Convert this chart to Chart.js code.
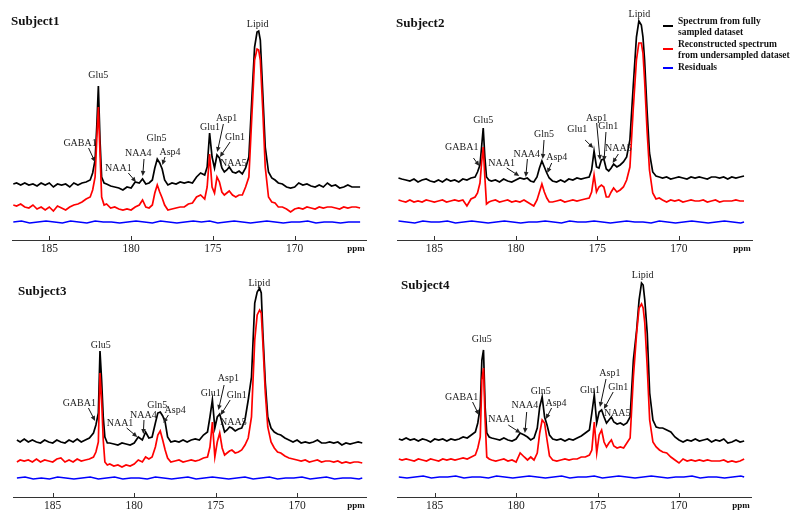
<!DOCTYPE html>
<html>
<head>
<meta charset="utf-8">
<script src="https://cdn.jsdelivr.net/npm/chart.js@4.4.1/dist/chart.umd.min.js"></script>
<style>
  body { margin: 0; background: #fff; }
  #wrap { position: relative; width: 800px; height: 519px; overflow: hidden; background: #fff; }
  canvas { position: absolute; }
</style>
</head>
<body>
<div id="wrap">
  <canvas id="c1" width="400" height="260" style="left:0;top:0"></canvas>
  <canvas id="c2" width="415" height="260" style="left:385px;top:0"></canvas>
  <canvas id="c3" width="400" height="260" style="left:0;top:257px"></canvas>
  <canvas id="c4" width="415" height="260" style="left:385px;top:257px"></canvas>
</div>
<script>
// chemical shift grid (ppm) shared by the full and reconstructed spectra
const ppm = [
  187.2, 187.0, 186.75, 186.5, 186.25, 186.0, 185.75, 185.5, 185.25, 185.0,
  184.75, 184.5, 184.25, 184.0, 183.75, 183.5, 183.25, 183.0, 182.75, 182.5,
  182.35, 182.2, 182.1, 182.0, 181.9, 181.8, 181.65, 181.5, 181.25, 181.0,
  180.75, 180.5, 180.25, 180.0, 179.75, 179.5, 179.3, 179.1, 178.9, 178.7,
  178.55, 178.4, 178.25, 178.1, 177.95, 177.75, 177.5, 177.25, 177.0, 176.75,
  176.5, 176.25, 176.0, 175.75, 175.5, 175.35, 175.2, 175.05, 174.9, 174.75,
  174.6, 174.45, 174.3, 174.15, 174.0, 173.8, 173.6, 173.4, 173.2, 173.0,
  172.8, 172.6, 172.45, 172.3, 172.2, 172.1, 171.95, 171.8, 171.6, 171.4,
  171.2, 171.0, 170.75, 170.5, 170.25, 170.0, 169.75, 169.5, 169.25, 169.0,
  168.75, 168.5, 168.25, 168.0, 167.75, 167.5, 167.25, 167.0, 166.75, 166.5,
  166.25, 166.0
];
// coarser grid for the residuals
const residPpm = [
  187.2, 186.7, 186.2, 185.7, 185.2, 184.7, 184.2, 183.7, 183.2, 182.7, 182.2,
  181.7, 181.2, 180.7, 180.2, 179.7, 179.2, 178.7, 178.2, 177.7, 177.2, 176.7,
  176.2, 175.7, 175.2, 174.7, 174.2, 173.7, 173.2, 172.7, 172.2, 171.7, 171.2,
  170.7, 170.2, 169.7, 169.2, 168.7, 168.2, 167.7, 167.2, 166.7, 166.2, 166.0
];
const tickVals = [185, 180, 175, 170];
const subjects = ['Subject1', 'Subject2', 'Subject3', 'Subject4'];
const legendLabels = [
  ['Spectrum from fully', 'sampled dataset'],
  ['Reconstructed spectrum', 'from undersampled dataset'],
  ['Residuals']
];

// Subject1
const full1 = [
  56, 57, 55, 57, 55, 56, 54, 57, 55, 57,
  53, 56, 55, 56, 53, 57, 55, 57, 58, 60,
  67, 80, 113, 154, 100, 63, 57, 56, 54, 53,
  52, 50, 53, 52, 58, 57, 61, 56, 57, 60,
  72, 81, 77, 71, 60, 55, 57, 56, 58, 57,
  58, 57, 63, 67, 65, 73, 107, 83, 72, 85,
  82, 72, 68, 70, 73, 68, 67, 69, 66, 72,
  83, 147, 193, 208, 209, 200, 147, 93, 68, 62,
  60, 57, 56, 53, 52, 53, 57, 55, 56, 54,
  53, 55, 53, 57, 54, 55, 52, 53, 55, 53,
  53, 53
];
const recon1 = [
  35, 34, 36, 33, 32, 35, 31, 33, 30, 33,
  29, 34, 32, 30, 33, 35, 36, 38, 41, 43,
  50, 63, 100, 133, 87, 43, 35, 36, 32, 33,
  31, 30, 31, 30, 33, 35, 40, 33, 32, 35,
  47, 55, 48, 42, 35, 30, 31, 32, 33, 33,
  36, 37, 43, 45, 41, 53, 86, 53, 47, 63,
  58, 48, 45, 47, 49, 45, 43, 45, 45, 53,
  63, 130, 180, 191, 190, 180, 130, 73, 43, 38,
  37, 33, 33, 31, 28, 31, 32, 31, 33, 32,
  31, 33, 32, 33, 33, 32, 31, 33, 32, 33,
  33, 32
];
const resid1 = [
  18, 19, 17, 18, 19, 18, 17, 19, 18, 17, 19,
  18, 18, 17, 18, 19, 18, 17, 19, 18, 17, 18,
  19, 18, 19, 17, 18, 19, 18, 17, 18, 19, 18,
  17, 18, 18, 19, 17, 18, 18, 17, 18, 18, 18
];

// Subject2
const full2 = [
  62, 61, 60, 59, 61, 58, 60, 61, 59, 58,
  60, 58, 61, 59, 60, 58, 61, 60, 62, 63,
  68, 75, 93, 112, 83, 63, 60, 59, 60, 58,
  61, 59, 58, 60, 62, 61, 62, 59, 58, 63,
  72, 79, 73, 67, 62, 59, 58, 60, 58, 61,
  60, 62, 61, 62, 63, 70, 89, 73, 72, 80,
  81, 71, 69, 72, 76, 73, 75, 78, 83, 100,
  153, 203, 219, 215, 203, 180, 130, 87, 68, 64,
  63, 62, 63, 61, 62, 63, 62, 61, 63, 62,
  63, 62, 61, 63, 63, 62, 63, 61, 63, 62,
  63, 64
];
const recon2 = [
  40, 39, 38, 40, 38, 39, 38, 40, 39, 38,
  39, 40, 38, 39, 40, 39, 40, 34, 41, 43,
  47, 57, 77, 93, 63, 36, 38, 39, 40, 38,
  39, 40, 38, 39, 38, 40, 38, 36, 34, 40,
  48, 56, 48, 42, 38, 38, 39, 40, 38, 39,
  40, 39, 40, 41, 42, 48, 65, 48, 53, 55,
  53, 43, 43, 48, 52, 48, 50, 53, 60, 73,
  130, 180, 197, 197, 187, 160, 110, 70, 47, 41,
  42, 40, 38, 40, 39, 40, 38, 39, 40, 39,
  39, 40, 38, 39, 40, 38, 39, 39, 39, 40,
  39, 39
];
const resid2 = [
  19, 18, 17, 19, 18, 18, 19, 17, 18, 19, 18,
  17, 18, 19, 18, 17, 18, 18, 19, 18, 17, 19,
  18, 18, 19, 18, 17, 18, 19, 18, 18, 17, 19,
  18, 17, 18, 19, 18, 17, 18, 19, 18, 17, 18
];

// Subject3
const full3 = [
  57, 55, 58, 55, 57, 55, 54, 57, 55, 54,
  57, 55, 54, 57, 55, 58, 55, 57, 59, 64,
  72, 84, 146, 117, 80, 60, 54, 54, 53, 52,
  54, 53, 52, 54, 60, 57, 65, 59, 60, 74,
  84, 85, 81, 75, 60, 55, 56, 55, 57, 55,
  57, 58, 57, 62, 65, 80, 97, 69, 80, 83,
  74, 65, 67, 70, 69, 66, 68, 69, 77, 97,
  120, 194, 205, 209, 204, 164, 114, 80, 69, 65,
  63, 62, 59, 57, 55, 57, 54, 55, 54, 55,
  57, 54, 54, 55, 54, 55, 52, 54, 53, 54,
  55, 54
];
const recon3 = [
  35, 37, 36, 37, 35, 38, 35, 37, 36, 35,
  38, 39, 35, 37, 35, 38, 36, 37, 38, 40,
  45, 55, 124, 97, 57, 35, 32, 33, 31, 32,
  30, 32, 31, 33, 37, 35, 40, 38, 40, 50,
  62, 66, 57, 47, 39, 35, 36, 37, 35, 36,
  37, 36, 37, 39, 40, 50, 75, 40, 55, 64,
  49, 42, 44, 46, 47, 44, 45, 47, 52, 59,
  80, 157, 182, 187, 184, 154, 104, 70, 55, 49,
  45, 44, 41, 39, 38, 37, 36, 37, 35, 36,
  37, 35, 36, 36, 35, 36, 34, 35, 34, 35,
  35, 34
];
const resid3 = [
  19, 20, 18, 19, 18, 20, 19, 18, 19, 20, 18,
  19, 20, 18, 19, 19, 18, 20, 19, 18, 19, 20,
  18, 19, 20, 19, 18, 19, 20, 18, 19, 20, 18,
  19, 19, 20, 18, 19, 20, 18, 19, 19, 18, 19
];

// Subject4
const full4 = [
  58, 57, 59, 57, 58, 56, 58, 57, 55, 58,
  57, 58, 56, 58, 57, 58, 60, 59, 62, 65,
  74, 90, 137, 147, 90, 64, 60, 59, 58, 57,
  59, 57, 56, 58, 64, 62, 60, 57, 59, 69,
  90, 100, 80, 72, 62, 58, 57, 58, 56, 58,
  57, 59, 61, 64, 67, 84, 102, 74, 85, 87,
  80, 74, 77, 80, 75, 73, 74, 72, 74, 80,
  137, 167, 197, 214, 212, 197, 164, 104, 77, 70,
  69, 69, 67, 65, 60, 57, 55, 57, 56, 58,
  56, 57, 58, 55, 57, 56, 58, 54, 55, 57,
  55, 56
];
const recon4 = [
  38, 37, 38, 37, 36, 38, 37, 36, 38, 37,
  36, 38, 37, 38, 37, 38, 39, 38, 40, 42,
  49, 60, 117, 129, 77, 40, 38, 37, 36, 37,
  38, 36, 37, 35, 44, 40, 37, 40, 37, 44,
  64, 77, 74, 57, 41, 37, 36, 37, 38, 37,
  38, 38, 40, 40, 42, 47, 75, 44, 62, 67,
  55, 50, 54, 57, 51, 49, 50, 49, 54, 59,
  120, 164, 189, 193, 189, 174, 130, 77, 55, 50,
  47, 45, 44, 40, 37, 34, 38, 36, 37, 36,
  37, 36, 37, 36, 36, 36, 37, 35, 36, 35,
  36, 38
];
const resid4 = [
  20, 19, 20, 21, 19, 20, 20, 21, 19, 20, 20,
  19, 21, 20, 19, 20, 21, 20, 19, 20, 21, 19,
  20, 20, 21, 19, 20, 21, 20, 19, 20, 21, 20,
  19, 20, 20, 21, 19, 20, 20, 19, 20, 21, 20
];

// peak labels: [text, label ppm, label height, arrow start ppm, height, arrow tip ppm, height]
const notes1 = [
  ['Lipid', 172.26, 216], ['Glu5', 182.0, 165],
  ['GABA1', 183.12, 97, 182.6, 92, 182.2, 78],
  ['NAA1', 180.78, 72, 180.17, 67, 179.7, 58],
  ['NAA4', 179.56, 87, 179.21, 81, 179.29, 64],
  ['Gln5', 178.44, 102],
  ['Asp4', 177.62, 88, 177.93, 83, 178.09, 75],
  ['Glu1', 175.18, 113],
  ['Asp1', 174.16, 122, 174.36, 116, 174.73, 88],
  ['Gln1', 173.65, 103, 173.95, 98, 174.57, 83],
  ['NAA5', 173.75, 77]
];
const notes2 = [
  ['Lipid', 172.42, 226], ['Glu5', 182.0, 120],
  ['GABA1', 183.32, 93, 182.6, 82, 182.24, 74],
  ['NAA1', 180.87, 77, 180.56, 72, 179.79, 64],
  ['NAA4', 179.33, 86, 179.29, 81, 179.39, 63],
  ['Gln5', 178.27, 106, 178.27, 100, 178.35, 81],
  ['Asp4', 177.49, 83, 177.8, 77, 178.07, 67],
  ['Glu1', 176.23, 111, 175.75, 100, 175.25, 92],
  ['Asp1', 175.04, 122, 175.04, 117, 174.83, 80],
  ['Gln1', 174.33, 114, 174.47, 108, 174.59, 79],
  ['NAA5', 173.71, 92, 173.71, 86, 174.06, 77]
];
const notes3 = [
  ['Lipid', 172.32, 214], ['Glu5', 182.05, 152],
  ['GABA1', 183.37, 94, 182.81, 89, 182.4, 76],
  ['NAA1', 180.87, 74, 180.46, 69, 179.81, 60],
  ['NAA4', 179.44, 82, 179.4, 77, 179.44, 63],
  ['Gln5', 178.58, 92],
  ['Asp4', 177.49, 87, 177.9, 82, 178.21, 74],
  ['Glu1', 175.3, 104],
  ['Asp1', 174.22, 119, 174.48, 112, 174.83, 87],
  ['Gln1', 173.7, 102, 174.11, 97, 174.69, 82],
  ['NAA5', 173.91, 75]
];
const notes4 = [
  ['Lipid', 172.23, 222], ['Glu5', 182.11, 158],
  ['GABA1', 183.34, 100, 182.67, 95, 182.28, 82],
  ['NAA1', 180.89, 78, 180.48, 72, 179.72, 64],
  ['NAA4', 179.46, 92, 179.35, 85, 179.46, 64],
  ['Gln5', 178.49, 106],
  ['Asp4', 177.55, 94, 177.82, 89, 178.17, 78],
  ['Glu1', 175.47, 107],
  ['Asp1', 174.24, 124, 174.48, 118, 174.85, 90],
  ['Gln1', 173.73, 110, 174.04, 105, 174.61, 88],
  ['NAA5', 173.79, 84]
];

const SERIF = '"Liberation Serif", "Times New Roman", serif';
const colors = ['#000000', '#ff0000', '#0000ff'];

function pts(xs, ys) {
  return xs.map((x, i) => ({ x: x, y: ys[i] }));
}

function arrow(ctx, x0, y0, x1, y1) {
  const a = Math.atan2(y1 - y0, x1 - x0);
  const len = 5, w = 2.3;
  ctx.beginPath();
  ctx.moveTo(x0, y0);
  ctx.lineTo(x1 - Math.cos(a) * len * 0.8, y1 - Math.sin(a) * len * 0.8);
  ctx.stroke();
  ctx.beginPath();
  ctx.moveTo(x1, y1);
  ctx.lineTo(x1 - Math.cos(a) * len - Math.sin(a) * w, y1 - Math.sin(a) * len + Math.cos(a) * w);
  ctx.lineTo(x1 - Math.cos(a) * len + Math.sin(a) * w, y1 - Math.sin(a) * len - Math.cos(a) * w);
  ctx.closePath();
  ctx.fill();
}

// title, peak labels, upward tick marks, "ppm" and the legend
const panelDecor = {
  id: 'panelDecor',
  afterDraw(chart, args, o) {
    const ctx = chart.ctx;
    const area = chart.chartArea;
    const xs = chart.scales.x, ys = chart.scales.y;
    ctx.save();
    ctx.fillStyle = '#111';
    ctx.strokeStyle = '#333';
    ctx.lineWidth = 1;

    ctx.font = 'bold 13px ' + SERIF;
    ctx.textAlign = 'left';
    ctx.textBaseline = 'middle';
    ctx.fillText(o.title, o.titlePos[0], o.titlePos[1]);

    tickVals.forEach(v => {
      const px = Math.round(xs.getPixelForValue(v)) + 0.5;
      ctx.beginPath();
      ctx.moveTo(px, area.bottom);
      ctx.lineTo(px, area.bottom - 4);
      ctx.stroke();
    });

    ctx.font = 'bold 9px ' + SERIF;
    ctx.textAlign = 'center';
    ctx.fillText('ppm', area.right - 10, area.bottom + 9);

    ctx.font = '10px ' + SERIF;
    ctx.fillStyle = '#222';
    ctx.strokeStyle = '#111';
    o.notes.forEach(n => {
      ctx.fillText(n[0], xs.getPixelForValue(n[1]), ys.getPixelForValue(n[2]));
      if (n.length > 3) {
        arrow(ctx, xs.getPixelForValue(n[3]), ys.getPixelForValue(n[4]),
              xs.getPixelForValue(n[5]), ys.getPixelForValue(n[6]));
      }
    });

    if (o.legend) {
      const lx = o.legend[0];
      let ly = o.legend[1];
      ctx.font = 'bold 9.5px ' + SERIF;
      ctx.textAlign = 'left';
      legendLabels.forEach((lines, i) => {
        const sy = lines.length > 1 ? ly + 4 : ly;
        ctx.strokeStyle = colors[i];
        ctx.lineWidth = 2;
        ctx.beginPath();
        ctx.moveTo(lx, sy);
        ctx.lineTo(lx + 10, sy);
        ctx.stroke();
        ctx.fillStyle = '#111';
        lines.forEach((t, k) => ctx.fillText(t, lx + 15, ly + k * 10.5));
        ly += 23;
      });
    }
    ctx.restore();
  }
};

function makePanel(id, cfg) {
  new Chart(document.getElementById(id), {
    type: 'line',
    data: {
      datasets: [
        { label: legendLabels[0].join(' '), data: pts(ppm, cfg.full), borderColor: colors[0], borderWidth: 1.7, order: 2 },
        { label: legendLabels[1].join(' '), data: pts(ppm, cfg.recon), borderColor: colors[1], borderWidth: 1.7, order: 1 },
        { label: legendLabels[2][0], data: pts(residPpm, cfg.resid), borderColor: colors[2], borderWidth: 1.4, order: 0 }
      ]
    },
    options: {
      responsive: false,
      animation: false,
      devicePixelRatio: 1,
      layout: { padding: { left: cfg.pad[0], right: cfg.pad[1], top: 0, bottom: 0 } },
      elements: { point: { radius: 0 }, line: { tension: 0 } },
      plugins: {
        legend: { display: false },
        tooltip: { enabled: false },
        panelDecor: { title: cfg.title, titlePos: cfg.titlePos, notes: cfg.notes, legend: cfg.legend }
      },
      scales: {
        x: {
          type: 'linear',
          reverse: true,
          min: cfg.range[0],
          max: cfg.range[1],
          afterBuildTicks: s => { s.ticks = tickVals.map(v => ({ value: v })); },
          afterFit: s => { s.height = 20; },
          grid: { display: false, drawTicks: false },
          border: { display: true, color: '#333', width: 1 },
          ticks: { font: { family: SERIF, size: 11.5 }, color: '#222', padding: 2, maxRotation: 0, autoSkip: false }
        },
        y: { display: false, min: 0, max: 240 }
      }
    },
    plugins: [panelDecor]
  });
}

makePanel('c1', { title: subjects[0], titlePos: [11, 22], full: full1, recon: recon1, resid: resid1, notes: notes1, pad: [12, 34], range: [165.64, 187.28] });
makePanel('c2', { title: subjects[1], titlePos: [11, 24], full: full2, recon: recon2, resid: resid2, notes: notes2, pad: [12, 48], range: [165.51, 187.29], legend: [278, 22] });
makePanel('c3', { title: subjects[2], titlePos: [18, 35], full: full3, recon: recon3, resid: resid3, notes: notes3, pad: [13, 34], range: [165.77, 187.44] });
makePanel('c4', { title: subjects[3], titlePos: [16, 29], full: full4, recon: recon4, resid: resid4, notes: notes4, pad: [12, 49], range: [165.58, 187.31] });
</script>
</body>
</html>
